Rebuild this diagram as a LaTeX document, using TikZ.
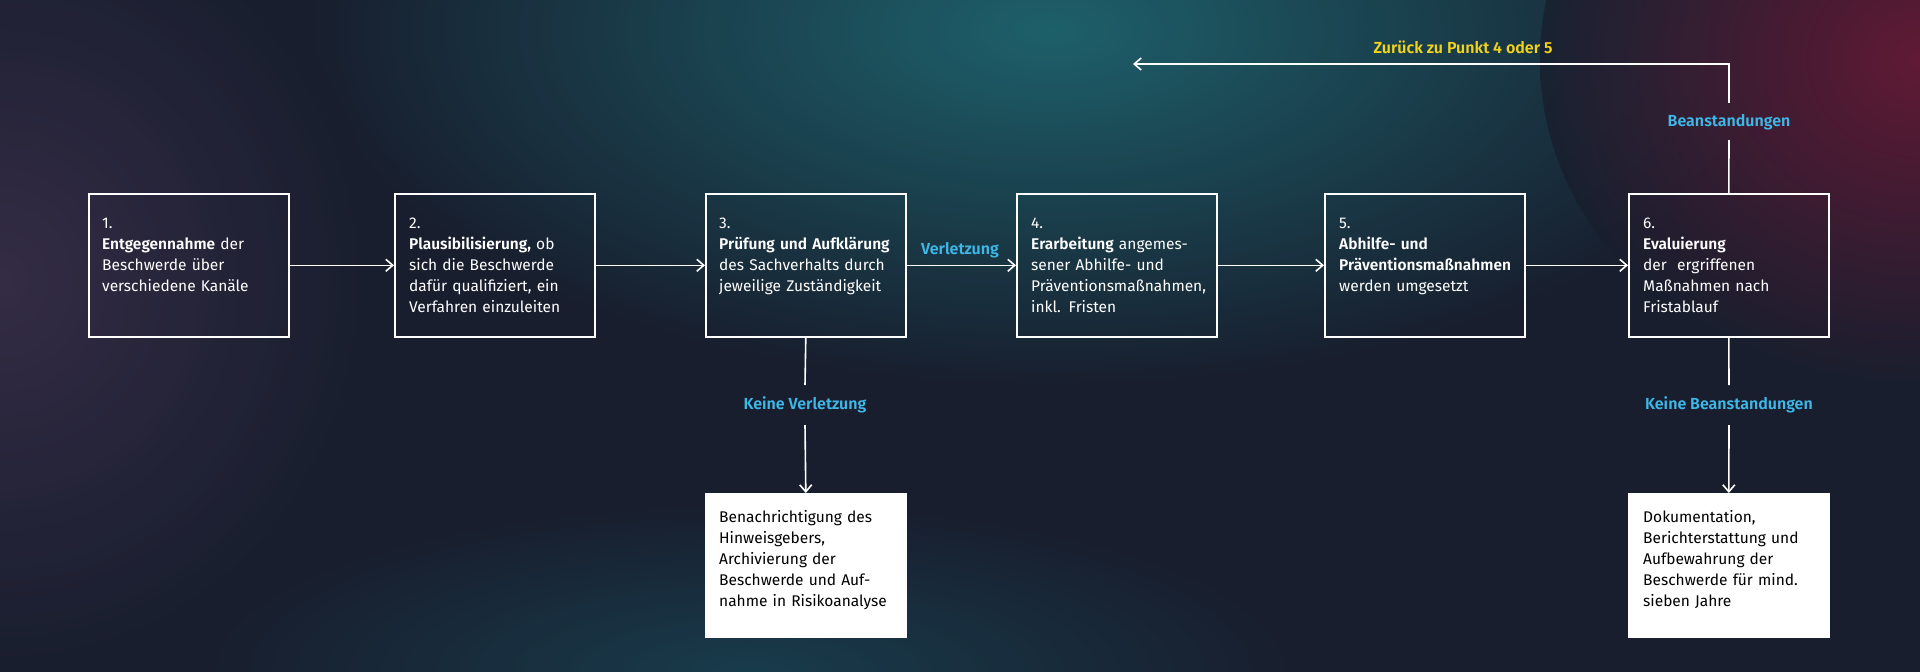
\documentclass[tikz,border=0pt]{standalone}
\usepackage{fontspec}
\setmainfont{Fira Sans}[BoldFont=Fira Sans SemiBold]
\usetikzlibrary{arrows.meta}
\definecolor{cyanl}{HTML}{3FB8E8}
\definecolor{yell}{HTML}{F2D31B}
\begin{document}
\begin{tikzpicture}[x=1pt,y=-1pt,
  box/.style={draw=white,line width=1.6pt,minimum width=200pt,minimum height=143pt,anchor=north west},
  txt/.style={anchor=north west,text=white,align=left,text width=186pt,font=\fontsize{15.5}{21}\selectfont,inner sep=0pt},
  wtxt/.style={txt,text=black},
  lbl/.style={text=cyanl,font=\fontsize{16}{18}\selectfont\bfseries,fill=none},
  con/.style={draw=white,line width=1.6pt},
  arr/.style={con,-{Straight Barb[length=7pt,width=12pt]}}]
\fill[fill={rgb,255:red,24;green,30;blue,46}] (0,0) rectangle (1920,672);
\begin{scope}
\clip (0,0) rectangle (1920,672);
\shade[inner color={rgb,255:red,30;green,100;blue,110},outer color={rgb,255:red,24;green,30;blue,46},opacity=0.95] (1050,30) ellipse (750 and 360);
\shade[inner color={rgb,255:red,115;green,25;blue,55},outer color={rgb,255:red,24;green,30;blue,46},opacity=0.8] (1920,60) ellipse (380 and 330);
\shade[inner color={rgb,255:red,65;green,50;blue,80},outer color={rgb,255:red,24;green,30;blue,46},opacity=0.7] (0,280) ellipse (380 and 400);
\shade[inner color={rgb,255:red,25;green,80;blue,95},outer color={rgb,255:red,24;green,30;blue,46},opacity=0.6] (750,672) ellipse (550 and 170);
\end{scope}
\useasboundingbox (0,0) rectangle (1920,672);
% boxes
\node[box] (b1) at (88,193) {};
\node[box] (b2) at (394,193) {};
\node[box] (b3) at (705,193) {};
\node[box] (b4) at (1016,193) {};
\node[box] (b5) at (1324,193) {};
\node[box] (b6) at (1628,193) {};
\node[box,fill=white] (w3) at (705,493) {};
\node[box,fill=white] (w6) at (1628,493) {};
\node[txt] at (102,218) {1.\\\textbf{Entgegennahme} der\\Beschwerde über\\verschiedene Kanäle};
\node[txt] at (409,218) {2.\\\textbf{Plausibilisierung,} ob\\sich die Beschwerde\\dafür qualifiziert, ein\\Verfahren einzuleiten};
\node[txt] at (719,218) {3.\\\textbf{Prüfung und Aufklärung}\\des Sachverhalts durch\\jeweilige Zuständigkeit};
\node[txt] at (1031,218) {4.\\\textbf{Erarbeitung} angemes-\\sener Abhilfe- und\\Präventionsmaßnahmen,\\inkl. Fristen};
\node[txt] at (1339,218) {5.\\\textbf{Abhilfe- und}\\\textbf{Präventionsmaßnahmen}\\werden umgesetzt};
\node[txt] at (1643,218) {6.\\\textbf{Evaluierung}\\der~ ergriffenen\\Maßnahmen nach\\Fristablauf};
\node[wtxt] at (719,510) {Benachrichtigung des\\Hinweisgebers,\\Archivierung der\\Beschwerde und Auf-\\nahme in Risikoanalyse};
\node[wtxt] at (1643,510) {Dokumentation,\\Berichterstattung und\\Aufbewahrung der\\Beschwerde für mind.\\sieben Jahre};
% horizontal arrows
\draw[arr] (b1.east) -- (b2.west);
\draw[arr] (b2.east) -- (b3.west);
\draw[arr] (b3.east) -- (b4.west);
\draw[arr] (b4.east) -- (b5.west);
\draw[arr] (b5.east) -- (b6.west);
\node[lbl] (lv) at (960,250) {Verletzung};
% vertical arrows
\node[lbl] (kv) at (805,405) {Keine Verletzung};
\draw[con] (b3.south) -- (805,385);
\draw[arr] (805,425) -- (w3.north);
\node[lbl] (kb) at (1729,405) {Keine Beanstandungen};
\draw[con] (b6.south) -- (1729,385);
\draw[arr] (1729,425) -- (w6.north);
% return
\node[lbl] (be) at (1729,122) {Beanstandungen};
\node[lbl,text=yell] (zu) at (1463,47) {Zurück zu Punkt 4 oder 5};
\coordinate (c1) at (1729,140);
\coordinate (c2) at (1729,103);
\coordinate (c3) at (1729,64);
\coordinate (c4) at (1133,64);
\draw[con] (b6.north) -- (c1);
\draw[arr] (c2) -- (c3) -- (c4);
\end{tikzpicture}
\end{document}
